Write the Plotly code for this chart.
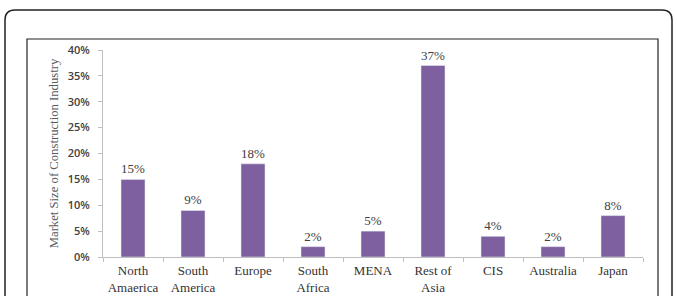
import plotly.graph_objects as go

categories = ["North<br>Amaerica", "South<br>America", "Europe", "South<br>Africa", "MENA",
              "Rest of<br>Asia", "CIS", "Australia", "Japan"]
values = [0.15, 0.09, 0.18, 0.02, 0.05, 0.37, 0.04, 0.02, 0.08]
labels = ["15%", "9%", "18%", "2%", "5%", "37%", "4%", "2%", "8%"]
y_title = "Market Size of Construction Industry"

W, H = 677, 296
L, R, T, B = 103, 34, 50, 39
pw, ph = W - L - R, H - T - B

def px(x):
    return (x - L) / pw

def py(y):
    return (H - B - y) / ph

def rounded(x0, y0, x1, y1, r):
    return (f"M {px(x0)},{py(y1)} L {px(x0)},{py(y0 + r)} "
            f"Q {px(x0)},{py(y0)} {px(x0 + r)},{py(y0)} "
            f"L {px(x1 - r)},{py(y0)} Q {px(x1)},{py(y0)} {px(x1)},{py(y0 + r)} "
            f"L {px(x1)},{py(y1)}")

fig = go.Figure(go.Bar(
    x=categories, y=values, text=labels, textposition="outside",
    textfont=dict(family="Liberation Serif", size=13, color="#404040"),
    marker=dict(color="#7E60A0"), width=0.4, cliponaxis=False,
))

fig.update_layout(
    width=W, height=H, margin=dict(l=L, r=R, t=T, b=B, autoexpand=False),
    paper_bgcolor="white", plot_bgcolor="white", showlegend=False,
    shapes=[
        dict(type="path", xref="paper", yref="paper", path=rounded(5, 10, 672, 320, 10),
             line=dict(color="#222222", width=1.5)),
        dict(type="rect", xref="paper", yref="paper", x0=px(27), x1=px(658), y0=py(320), y1=py(39),
             line=dict(color="#222222", width=1.2)),
    ],
)
fig.update_xaxes(
    automargin=False,
    showline=True, linecolor="#bfbfbf", linewidth=1, ticks="outside", tickson="boundaries",
    ticklen=4, tickcolor="#bfbfbf", ticklabelstandoff=1,
    tickfont=dict(family="Liberation Serif", size=13, color="#333333"),
)
fig.update_yaxes(
    automargin=False,
    range=[0, 0.40], dtick=0.05, tickformat=".0%", showgrid=False, zeroline=False,
    showline=True, linecolor="#bfbfbf", linewidth=1, ticks="outside", ticklen=4, tickcolor="#bfbfbf",
    ticklabelstandoff=6,
    tickfont=dict(family="Open Sans", size=11, color="#404040", weight=600),
    title=dict(text=y_title, font=dict(family="Liberation Serif", size=12.7, color="#595959"), standoff=6),
)

fig.write_html("out.html", config={"displayModeBar": False},
               post_script="document.body.style.margin='0';document.body.style.overflow='hidden';")
